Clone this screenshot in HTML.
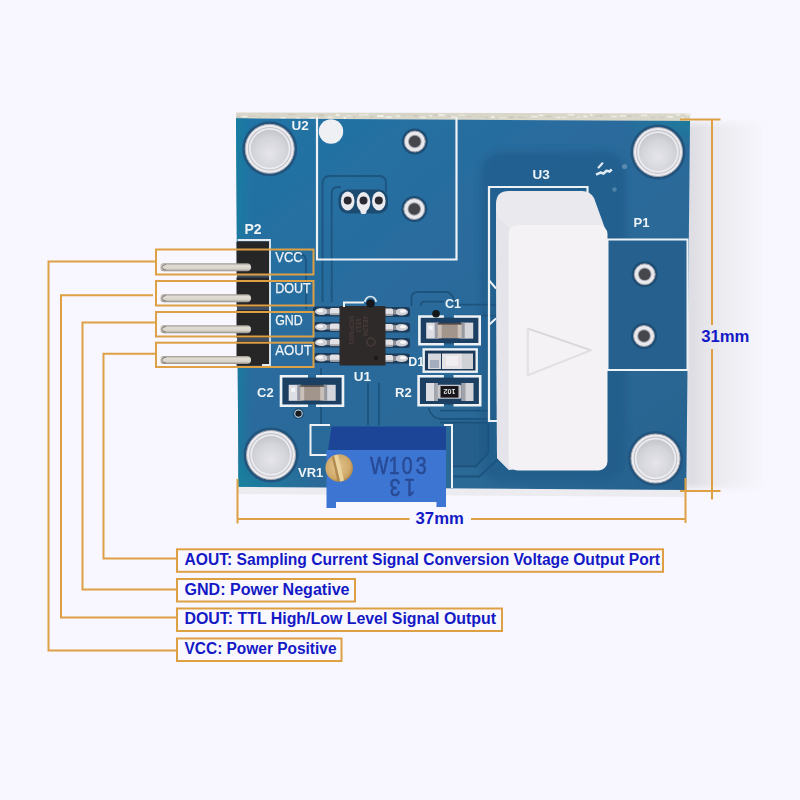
<!DOCTYPE html>
<html><head><meta charset="utf-8"><title>Current sensor module</title>
<style>
html,body{margin:0;padding:0;background:#f8f6fe;}
body{width:800px;height:800px;overflow:hidden;font-family:"Liberation Sans",sans-serif;}
svg{display:block;}
.sk{font-family:"Liberation Sans",sans-serif;font-weight:bold;fill:#eef3f6;}
.pl{font-weight:normal;stroke:#eef3f6;stroke-width:0.25px;}
.lb{font-family:"Liberation Sans",sans-serif;font-weight:bold;fill:#1419c6;}
</style></head>
<body>
<svg width="800" height="800" viewBox="0 0 800 800">
<defs>
  <linearGradient id="pcb" x1="0" y1="0" x2="1" y2="1">
    <stop offset="0" stop-color="#2074a6"/>
    <stop offset="0.35" stop-color="#296c9e"/>
    <stop offset="0.7" stop-color="#2b6896"/>
    <stop offset="1" stop-color="#27638f"/>
  </linearGradient>
  <radialGradient id="holein" cx="0.5" cy="0.62" r="0.6">
    <stop offset="0" stop-color="#e6e5ec"/>
    <stop offset="0.7" stop-color="#d4d4db"/>
    <stop offset="1" stop-color="#c6c6ce"/>
  </radialGradient>
  <linearGradient id="pin" x1="0" y1="0" x2="0" y2="1">
    <stop offset="0" stop-color="#9d998f"/>
    <stop offset="0.3" stop-color="#e2ded6"/>
    <stop offset="0.7" stop-color="#d6d2ca"/>
    <stop offset="1" stop-color="#928e86"/>
  </linearGradient>
  <linearGradient id="pinfade" x1="0" y1="0" x2="1" y2="0">
    <stop offset="0" stop-color="#272628" stop-opacity="0"/>
    <stop offset="0.45" stop-color="#e8e4dc" stop-opacity="0.3"/>
    <stop offset="1" stop-color="#272628" stop-opacity="1"/>
  </linearGradient>
  <filter id="photo" x="0" y="0" width="100%" height="100%" filterUnits="userSpaceOnUse"><feGaussianBlur stdDeviation="0.35"/></filter>
  <filter id="soft" x="-20%" y="-10%" width="140%" height="120%"><feGaussianBlur stdDeviation="3"/></filter>
  <linearGradient id="shadowR" x1="0" y1="0" x2="1" y2="0">
    <stop offset="0" stop-color="#dadae0"/>
    <stop offset="0.28" stop-color="#e6e6eb"/>
    <stop offset="0.6" stop-color="#efeff4"/>
    <stop offset="1" stop-color="#f8f6fe"/>
  </linearGradient>
  <linearGradient id="tealL" x1="0" y1="0" x2="1" y2="0">
    <stop offset="0" stop-color="#14809e" stop-opacity="0.7"/>
    <stop offset="1" stop-color="#14809e" stop-opacity="0"/>
  </linearGradient>
  <radialGradient id="tealBL" cx="0" cy="1" r="1">
    <stop offset="0" stop-color="#15869e" stop-opacity="0.75"/>
    <stop offset="1" stop-color="#15869e" stop-opacity="0"/>
  </radialGradient>
  <radialGradient id="tealTR" cx="1" cy="0" r="1">
    <stop offset="0" stop-color="#15869e" stop-opacity="0.6"/>
    <stop offset="1" stop-color="#15869e" stop-opacity="0"/>
  </radialGradient>
  <radialGradient id="brass" cx="0.45" cy="0.45" r="0.6">
    <stop offset="0" stop-color="#e2c58e"/>
    <stop offset="0.75" stop-color="#cfa868"/>
    <stop offset="1" stop-color="#a27a44"/>
  </radialGradient>
  <g id="mhole">
    <circle r="27.5" fill="#22557e"/>
    <circle r="24.5" fill="#ececf0" stroke="#a9a9b2" stroke-width="1"/>
    <circle r="21.3" fill="none" stroke="#c4c4cc" stroke-width="1.2"/>
    <circle r="19" fill="url(#holein)"/>
  </g>
  <g id="via">
    <circle r="13" fill="#1e4d74"/>
    <circle r="10.5" fill="#e9e9ed" stroke="#9a9aa4" stroke-width="1"/>
    <circle r="6.8" fill="#a3a3ab"/>
    <circle r="5.8" fill="#45464d"/>
  </g>
  <g id="sv">
    <circle r="5.5" fill="#1e4e76"/>
    <circle r="4.2" fill="#cfe0ea"/>
    <circle r="3.2" fill="#151a20"/>
  </g>
  <g id="lead">
    <rect x="-2" y="-5" width="28" height="10" rx="3" fill="#1d3a58"/>
    <ellipse cx="6.5" cy="0" rx="6.5" ry="3.6" fill="#cfd0d5"/>
    <ellipse cx="5" cy="-0.8" rx="3" ry="1.6" fill="#f6f6f8"/>
    <rect x="12" y="-2.6" width="4" height="5.2" fill="#8e8e96"/>
    <rect x="15" y="-3.6" width="10" height="7.2" rx="1.5" fill="#e2e2e6"/>
    <rect x="15" y="1.8" width="10" height="1.8" fill="#a4a4ac"/>
  </g>
  <g id="cap">
    <rect x="-23.5" y="-8" width="12.5" height="16" fill="#dedfe4"/>
    <rect x="-15" y="-8" width="4" height="16" fill="#80848e" opacity="0.75"/>
    <rect x="-21" y="-5" width="4" height="4" fill="#f6f6f8"/>
    <rect x="11" y="-8" width="12.5" height="16" fill="#d5d6dc"/>
    <rect x="11" y="-8" width="4" height="16" fill="#80848e" opacity="0.75"/>
    <rect x="-12" y="-7.6" width="24" height="15.2" rx="1" fill="#a2958c"/>
    <rect x="-12" y="-7.6" width="4" height="15.2" fill="#c9c0ba"/>
    <rect x="8" y="-7.6" width="4" height="15.2" fill="#c9c0ba"/>
    <rect x="-12" y="-7.6" width="24" height="1.6" fill="#4e4744"/>
  </g>
</defs>

<!-- background -->
<rect x="0" y="0" width="800" height="800" fill="#f8f6fe"/>
<g filter="url(#photo)">
<!-- board side / shadow -->
<rect x="685" y="123" width="80" height="365" fill="url(#shadowR)" filter="url(#soft)"/>
<polygon points="238,486 687,489 687,497 238,494" fill="#ebebf0"/>
<!-- beige top edge -->
<polygon points="236,112.5 690,113.5 690,121.5 236,119" fill="#d9d7ca"/>
<g opacity="0.85"><rect x="237.0" y="115.7" width="3.2" height="2.1" fill="#c9c6b8"/><rect x="242.3" y="115.9" width="4.9" height="1.3" fill="#f6f5f1"/><rect x="248.6" y="115.4" width="7.0" height="1.6" fill="#d2cfc2"/><rect x="258.3" y="116.0" width="2.8" height="1.5" fill="#d2cfc2"/><rect x="261.6" y="114.1" width="5.9" height="1.1" fill="#d2cfc2"/><rect x="270.7" y="114.6" width="6.1" height="1.9" fill="#d2cfc2"/><rect x="280.4" y="117.2" width="5.6" height="1.9" fill="#f6f5f1"/><rect x="288.5" y="114.0" width="6.8" height="1.1" fill="#c9c6b8"/><rect x="296.3" y="117.4" width="3.1" height="1.9" fill="#f6f5f1"/><rect x="302.9" y="116.8" width="4.1" height="1.4" fill="#d2cfc2"/><rect x="309.5" y="117.1" width="4.9" height="2.0" fill="#f1f0ea"/><rect x="318.4" y="114.2" width="5.4" height="2.2" fill="#c9c6b8"/><rect x="327.4" y="116.4" width="4.8" height="1.8" fill="#ece9df"/><rect x="336.2" y="114.0" width="3.3" height="2.0" fill="#f6f5f1"/><rect x="343.5" y="116.7" width="2.4" height="2.1" fill="#f6f5f1"/><rect x="346.6" y="115.2" width="4.1" height="1.1" fill="#f1f0ea"/><rect x="353.3" y="116.4" width="2.2" height="1.7" fill="#c9c6b8"/><rect x="359.3" y="114.4" width="3.4" height="1.4" fill="#f1f0ea"/><rect x="363.5" y="113.6" width="5.0" height="2.2" fill="#ece9df"/><rect x="370.0" y="116.3" width="3.3" height="1.4" fill="#c9c6b8"/><rect x="377.1" y="115.0" width="6.5" height="2.0" fill="#f6f5f1"/><rect x="385.5" y="116.2" width="6.3" height="1.7" fill="#f1f0ea"/><rect x="395.6" y="115.2" width="4.5" height="2.1" fill="#ece9df"/><rect x="402.2" y="114.7" width="3.3" height="1.0" fill="#c9c6b8"/><rect x="407.4" y="113.6" width="4.9" height="1.7" fill="#d2cfc2"/><rect x="413.3" y="114.8" width="5.2" height="1.8" fill="#c9c6b8"/><rect x="420.2" y="116.5" width="5.5" height="1.7" fill="#f1f0ea"/><rect x="429.6" y="115.0" width="2.1" height="1.4" fill="#f6f5f1"/><rect x="434.3" y="114.2" width="2.9" height="2.0" fill="#c9c6b8"/><rect x="438.6" y="113.9" width="5.9" height="2.2" fill="#f1f0ea"/><rect x="447.4" y="115.5" width="2.7" height="1.3" fill="#c9c6b8"/><rect x="451.2" y="116.3" width="4.2" height="1.7" fill="#f1f0ea"/><rect x="459.2" y="114.4" width="5.4" height="1.1" fill="#ece9df"/><rect x="467.7" y="115.8" width="3.1" height="1.3" fill="#c9c6b8"/><rect x="471.7" y="114.3" width="4.6" height="1.2" fill="#d2cfc2"/><rect x="477.8" y="116.1" width="6.0" height="1.4" fill="#d2cfc2"/><rect x="484.8" y="116.7" width="3.5" height="1.6" fill="#c9c6b8"/><rect x="491.0" y="115.8" width="3.5" height="2.1" fill="#f1f0ea"/><rect x="495.5" y="117.3" width="2.0" height="2.2" fill="#d2cfc2"/><rect x="499.5" y="117.2" width="6.8" height="1.0" fill="#ece9df"/><rect x="508.4" y="116.5" width="5.8" height="1.7" fill="#c9c6b8"/><rect x="517.8" y="116.9" width="6.3" height="1.1" fill="#c9c6b8"/><rect x="525.4" y="116.7" width="2.2" height="2.1" fill="#d2cfc2"/><rect x="531.3" y="115.8" width="6.5" height="1.6" fill="#f1f0ea"/><rect x="538.7" y="114.5" width="4.5" height="1.6" fill="#f1f0ea"/><rect x="545.1" y="115.9" width="6.7" height="1.2" fill="#c9c6b8"/><rect x="555.7" y="116.7" width="4.7" height="1.4" fill="#f1f0ea"/><rect x="561.6" y="116.8" width="4.7" height="1.3" fill="#ece9df"/><rect x="567.8" y="114.0" width="6.4" height="1.6" fill="#f1f0ea"/><rect x="576.7" y="116.5" width="4.0" height="1.3" fill="#ece9df"/><rect x="583.1" y="115.4" width="4.1" height="2.0" fill="#f1f0ea"/><rect x="590.4" y="113.7" width="2.2" height="2.2" fill="#f6f5f1"/><rect x="596.1" y="115.5" width="2.4" height="1.2" fill="#c9c6b8"/><rect x="599.3" y="115.1" width="3.9" height="1.4" fill="#c9c6b8"/><rect x="604.4" y="114.0" width="3.6" height="1.0" fill="#d2cfc2"/><rect x="611.1" y="115.8" width="6.0" height="1.4" fill="#f1f0ea"/><rect x="619.7" y="115.0" width="5.9" height="1.7" fill="#f1f0ea"/><rect x="627.6" y="115.5" width="3.9" height="1.5" fill="#c9c6b8"/><rect x="634.4" y="114.5" width="4.3" height="1.3" fill="#d2cfc2"/><rect x="641.2" y="114.4" width="6.0" height="2.1" fill="#ece9df"/><rect x="651.0" y="117.1" width="3.9" height="1.1" fill="#c9c6b8"/><rect x="657.8" y="116.4" width="6.7" height="2.0" fill="#d2cfc2"/><rect x="667.3" y="115.8" width="5.7" height="2.0" fill="#f1f0ea"/><rect x="676.0" y="114.4" width="4.4" height="1.1" fill="#f6f5f1"/><rect x="681.2" y="117.0" width="2.5" height="2.0" fill="#ece9df"/><rect x="685.4" y="113.6" width="6.3" height="1.8" fill="#f1f0ea"/></g>
<!-- PCB -->
<polygon points="236,118.3 690,121 686.3,490 238.5,486.8" fill="url(#pcb)"/>
<polygon points="236,118.3 250,118.5 252,487 238.5,486.8" fill="url(#tealL)"/>
<polygon points="237.5,450 317,450 317,487.3 238.5,486.8" fill="url(#tealBL)"/>
<polygon points="620,120.5 690,121 689.7,150 620,150" fill="url(#tealTR)"/>

<!-- traces (subtle edges) -->
<path d="M452,423 H488.4 V452.9 L476,466.4 H452 Z" fill="#245c88" opacity="0.8"/>
<g fill="none" stroke="#1b4c74" stroke-width="1.8" opacity="0.75">
  <path d="M386,192 V183 Q386,176 379,176 H330 Q322.5,176 322.5,184 V302"/>
  <path d="M341,187 H338 Q331.7,187 331.7,194 V302"/>
  <path d="M293,254 H299 Q306,254 306,261 V309"/>
  <path d="M411.5,306 V298 Q411.5,292 418,292 H446 Q450,292 453,297 L456,304.7 H496"/>
  <path d="M421,306 V305 Q421,301.7 425,301.7 H444"/>
  <path d="M456,315.7 H496"/>
  <path d="M321,368 V425 M368,383 V425 M379,383 V425"/>
  <path d="M428.5,408 Q432,419 441,419 H489"/>
  <path d="M440,410.7 H488 M440,422.5 H488"/>
  <path d="M488.4,423 V452.9 L476,466.4 H452"/>
  <path d="M498.5,423 V458.5 L479.4,476.5 H452"/>
</g>

<!-- darker region around U3 -->
<rect x="480" y="151" width="146" height="330" rx="22" fill="#1c5583" opacity="0.45" filter="url(#soft)"/>

<!-- P1 copper area -->
<rect x="608" y="240" width="79" height="129.5" fill="#27618e"/>

<!-- U2 silkscreen -->
<polyline points="317,117 317,259.5 456.5,259.5 456.5,117" fill="none" stroke="#eef2f5" stroke-width="2.2"/>
<circle cx="331" cy="131.5" r="12.2" fill="#eef0f3"/>
<text class="sk" x="291.5" y="130" font-size="13.5">U2</text>
<use href="#via" x="414.8" y="141.5"/>
<use href="#via" x="414.3" y="209"/>
<!-- 3 pads -->
<g>
  <rect x="338.5" y="189.5" width="49.5" height="24" rx="9" fill="#1f4c72"/>
  <ellipse cx="347.7" cy="201" rx="6.8" ry="9.5" fill="#ebebef"/>
  <rect x="360.5" y="206" width="6" height="8" rx="2" fill="#ebebef"/>
  <ellipse cx="363.5" cy="202" rx="6.8" ry="10" fill="#ebebef"/>
  <ellipse cx="378.8" cy="201" rx="6.8" ry="9.5" fill="#ebebef"/>
  <circle cx="347.7" cy="200.5" r="4" fill="#2a2b30"/>
  <circle cx="363.5" cy="200.5" r="4" fill="#2a2b30"/>
  <circle cx="378.8" cy="200.5" r="4" fill="#2a2b30"/>
</g>

<!-- mounting holes -->
<use href="#mhole" x="269.7" y="148.8"/>
<use href="#mhole" x="658" y="152"/>
<use href="#mhole" x="271" y="455"/>
<use href="#mhole" x="655.5" y="458.5"/>

<!-- U3 silkscreen + label -->
<polyline points="497,421 489,421 489,187 587.5,187 587.5,200" fill="none" stroke="#eef2f5" stroke-width="2.2"/>
<text class="sk" x="532.5" y="178.5" font-size="13.5">U3</text>
<path d="M488.5,279.7 L496,288.5 M488.5,325.2 L496,318.5" stroke="#eef2f5" stroke-width="2" fill="none"/>
<!-- P1 silkscreen -->
<rect x="607.5" y="239.5" width="80" height="130.5" fill="none" stroke="#eef2f5" stroke-width="2"/>
<text class="sk" x="633.5" y="227" font-size="13">P1</text>
<use href="#via" x="644.7" y="274.3"/>
<use href="#via" x="644" y="336"/>
<!-- small silkscreen marks near U3 -->
<path d="M598.6,167.4 L602.4,163.3" stroke="#e2ebf1" stroke-width="2.2" stroke-linecap="round" fill="none"/>
<path d="M596,174.6 L600.5,172.6 L603.5,173.6 L606.5,170.8 L609.5,171.6 L611.8,169.6" stroke="#e2ebf1" stroke-width="2.6" stroke-linejoin="round" fill="none"/>
<circle cx="624.5" cy="166.5" r="2.6" fill="#7ea3c0" opacity="0.6"/>
<circle cx="614.5" cy="189.5" r="2.2" fill="#7ea3c0" opacity="0.5"/>

<!-- U3 current transformer block -->
<path d="M496,204 Q496,191 509,191 L582,191 Q590,191 594,198 L607,234 L607,460 L509,470 L497,458 Z" fill="#eaeaee"/>
<path d="M496,215 L509,228 L509,470 L497,458 Z" fill="#e4e4ea"/>
<rect x="508.5" y="225" width="99" height="245.5" rx="9" fill="#f4f2f4"/>
<polygon points="527.8,328.5 527.8,375.3 591,350.3" fill="none" stroke="#e2e0e4" stroke-width="2.2" stroke-linejoin="round"/>
<path d="M528.5,328.8 L590,350" stroke="#d6d4d9" stroke-width="1.2" fill="none"/>

<!-- header P2 -->
<rect x="237" y="241" width="32" height="125" fill="#3c4e63"/>
<g fill="#272628">
  <rect x="236.5" y="242" width="32.5" height="32.5"/>
  <rect x="236.5" y="277.5" width="32.5" height="29.5"/>
  <rect x="236.5" y="310" width="32.5" height="28"/>
  <rect x="236.5" y="341" width="32.5" height="24.5"/>
</g>
<path d="M238.5,241 V240 H270 V365 H262" fill="none" stroke="#e4ecf1" stroke-width="1.8"/>
<text class="sk" x="244.5" y="234" font-size="14">P2</text>
<!-- pins -->
<g>
  <rect x="160" y="263.3" width="91" height="8" rx="4" fill="url(#pin)"/>
  <rect x="160" y="294.2" width="91" height="8" rx="4" fill="url(#pin)"/>
  <rect x="160" y="325.2" width="91" height="8" rx="4" fill="url(#pin)"/>
  <rect x="160" y="356" width="91" height="8" rx="4" fill="url(#pin)"/>
  <g fill="none" stroke="#8a867e" stroke-width="1.2">
    <path d="M166,264.5 Q161,265.5 162,268 Q163,270 166,270"/>
    <path d="M166,295.4 Q161,296.4 162,299 Q163,301 166,301"/>
    <path d="M166,326.4 Q161,327.4 162,330 Q163,332 166,332"/>
    <path d="M166,357.2 Q161,358.2 162,361 Q163,363 166,363"/>
  </g>
</g>

<!-- P2 labels -->
<text class="sk pl" x="275.2" y="262" font-size="14.2" textLength="27.6" lengthAdjust="spacingAndGlyphs">VCC</text>
<text class="sk pl" x="275.2" y="293.3" font-size="14" textLength="35.6" lengthAdjust="spacingAndGlyphs">DOUT</text>
<text class="sk pl" x="275.2" y="324.8" font-size="14.2" textLength="27.6" lengthAdjust="spacingAndGlyphs">GND</text>
<text class="sk pl" x="275.2" y="355.2" font-size="14.2" textLength="36.6" lengthAdjust="spacingAndGlyphs">AOUT</text>

<!-- U1 chip -->
<use href="#lead" x="315" y="311.5"/>
<use href="#lead" x="315" y="327"/>
<use href="#lead" x="315" y="342.5"/>
<use href="#lead" x="315" y="358"/>
<use href="#lead" x="-408" y="312" transform="scale(-1,1)"/>
<use href="#lead" x="-408" y="327.5" transform="scale(-1,1)"/>
<use href="#lead" x="-408" y="343" transform="scale(-1,1)"/>
<use href="#lead" x="-408" y="358.5" transform="scale(-1,1)"/>
<rect x="339.5" y="306" width="46" height="59.5" fill="#2f2b2c"/>
<g fill="#5a4640" opacity="0.55" font-family="Liberation Sans, sans-serif" font-size="6.5" font-weight="bold">
  <text transform="translate(349,316) rotate(90)">MCP6001</text>
  <text transform="translate(356,318) rotate(90)">1513</text>
  <text transform="translate(363,316) rotate(90)">4E1JH</text>
  <circle cx="371" cy="342" r="4" fill="none" stroke="#5a4640" stroke-width="1.5"/>
</g>
<circle cx="376" cy="358" r="2.2" fill="#1d1b1c"/>
<path d="M344,307 V302.5 H364" fill="none" stroke="#eef2f5" stroke-width="2"/>
<path d="M365,302 A5.5,5.5 0 0 1 376,302" fill="none" stroke="#dfe8ee" stroke-width="1.6"/>
<circle cx="370.5" cy="303.5" r="4.3" fill="#15191f"/>
<text class="sk" x="353.8" y="380.7" font-size="13.5">U1</text>

<!-- C1 -->
<rect x="420" y="317.5" width="59" height="26" fill="#1f4164"/>
<g fill="none" stroke="#eef2f5" stroke-width="2.6">
  <polyline points="443.9,316.5 419.4,316.5 419.4,344.3 443.9,344.3"/>
  <polyline points="453.9,316.5 479.7,316.5 479.7,344.3 453.9,344.3"/>
</g>
<use href="#cap" x="449.7" y="330.6"/>
<circle cx="436" cy="313.8" r="3.8" fill="#121418"/>
<text class="sk" x="445" y="308" font-size="12.5">C1</text>

<!-- D1 -->
<rect x="423.7" y="349.4" width="53" height="22.3" fill="#1c3858" stroke="#eef2f5" stroke-width="2.4"/>
<rect x="428" y="353.5" width="13" height="15.5" fill="#d6d8de"/>
<rect x="430" y="360" width="9" height="8" fill="#7b8aa3" opacity="0.55"/>
<rect x="462" y="353.5" width="11" height="15.5" fill="#cfd1d7"/>
<rect x="442" y="353.5" width="20" height="15.5" fill="#e6e2e6"/>
<rect x="446" y="356" width="12" height="10" fill="#f1eef1"/>
<text class="sk" x="408.3" y="366" font-size="12.5">D1</text>

<!-- R2 -->
<rect x="420" y="377.5" width="59" height="27" fill="#1f4164"/>
<g fill="none" stroke="#eef2f5" stroke-width="2.6">
  <polyline points="443.9,376.3 418.6,376.3 418.6,405.3 443.9,405.3"/>
  <polyline points="453.5,376.3 480.2,376.3 480.2,405.3 453.5,405.3"/>
</g>
<rect x="426" y="383" width="12" height="18" fill="#dcdde2"/>
<rect x="434" y="383" width="4" height="18" fill="#8a8d96" opacity="0.7"/>
<rect x="461.5" y="383" width="12" height="18" fill="#d2d3d9"/>
<rect x="461.5" y="383" width="4" height="18" fill="#8a8d96" opacity="0.7"/>
<rect x="437.7" y="384.8" width="23.5" height="14" rx="1.5" fill="#c8c8cc"/>
<rect x="440.5" y="386" width="18" height="11.6" fill="#18181b"/>
<text transform="translate(449.5,391.8) rotate(180)" x="0" y="2.6" text-anchor="middle" font-size="7.2" fill="#e8e8e8" font-family="Liberation Sans, sans-serif" font-weight="bold">102</text>
<text class="sk" x="395" y="396.5" font-size="13">R2</text>

<!-- C2 -->
<rect x="282.5" y="377.5" width="59" height="27" fill="#1f4164"/>
<g fill="none" stroke="#eef2f5" stroke-width="2.6">
  <polyline points="308,376.3 281,376.3 281,405.8 308,405.8"/>
  <polyline points="316,376.3 343,376.3 343,405.8 316,405.8"/>
</g>
<use href="#cap" x="312.2" y="392.8"/>
<text class="sk" x="257" y="396.5" font-size="13">C2</text>
<use href="#sv" x="298.5" y="413.6"/>

<!-- VR1 -->
<polyline points="330,425 310.5,425 310.5,455 328,455" fill="none" stroke="#eef2f5" stroke-width="2"/>
<polyline points="444,425 452,425 452,488" fill="none" stroke="#eef2f5" stroke-width="2"/>
<polygon points="331.5,426.5 446,426.5 446,450.5 328,450.5" fill="#1f4598"/>
<path d="M326.5,450 H446 V507 H436.5 V502 H336 V508 H326.5 Z" fill="#3e75d3"/>
<circle cx="339.2" cy="468" r="13.8" fill="url(#brass)"/>
<path d="M334,455.5 L338,455 L344,480.5 L340,481.5 Z" fill="#ecd49e"/>
<path d="M332,457 L334,456 L340,481 L337.5,481.5 Z" fill="#b18a50"/>
<text transform="translate(370,474.2) scale(0.8,1)" x="0 23.5 39.6 57.1" y="0" font-size="24.5" fill="#294b95" stroke="#294b95" stroke-width="0.6" font-family="Liberation Sans, sans-serif">W103</text>
<text transform="translate(404,487.5) rotate(180) scale(0.8,1)" x="-14 4.5" y="8.9" font-size="24.5" fill="#294b95" stroke="#294b95" stroke-width="0.6" font-family="Liberation Sans, sans-serif">13</text>
<text class="sk" x="298" y="476.5" font-size="13">VR1</text>

</g>

<!-- ============== annotations ============== -->
<g fill="none" stroke="#dea044" stroke-width="2">
  <!-- P2 label boxes -->
  <rect x="156" y="249.5" width="157.5" height="25"/>
  <rect x="156" y="281" width="157.5" height="24.5"/>
  <rect x="156" y="312" width="157.5" height="24.5"/>
  <rect x="156" y="342.7" width="157.5" height="24.3"/>
  <!-- leader lines -->
  <polyline points="156,261.5 48.5,261.5 48.5,650.5 177,650.5"/>
  <polyline points="153,295.2 61,295.2 61,617.5 177,617.5"/>
  <polyline points="156,322.5 82.5,322.5 82.5,589.5 177,589.5"/>
  <polyline points="156,353.7 103.5,353.7 103.5,558.5 177,558.5"/>
  <!-- bottom label boxes -->
  <rect x="177" y="549.3" width="486" height="22.5" fill="#faf8ff"/>
  <rect x="177" y="579" width="178" height="22.5" fill="#faf8ff"/>
  <rect x="177" y="608.5" width="325" height="22.5" fill="#faf8ff"/>
  <rect x="177" y="638.5" width="164.5" height="22.5" fill="#faf8ff"/>
  <!-- dimension 31mm -->
  <line x1="680" y1="119.5" x2="720.5" y2="119.5"/>
  <line x1="680" y1="491" x2="720.5" y2="491"/>
  <line x1="712" y1="119.5" x2="712" y2="325"/>
  <line x1="712" y1="349" x2="712" y2="499.5"/>
  <!-- dimension 37mm -->
  <line x1="237.5" y1="479" x2="237.5" y2="523.5"/>
  <line x1="685.5" y1="478" x2="685.5" y2="523"/>
  <line x1="237.5" y1="519" x2="409.5" y2="519"/>
  <line x1="471" y1="519" x2="685.5" y2="519"/>
</g>
<text class="lb" x="701.2" y="341.5" font-size="16" textLength="48.2" lengthAdjust="spacingAndGlyphs">31mm</text>
<text class="lb" x="415.6" y="524.4" font-size="16" textLength="48.2" lengthAdjust="spacingAndGlyphs">37mm</text>

<text class="lb" x="184.5" y="565.2" font-size="16" textLength="475.5" lengthAdjust="spacingAndGlyphs">AOUT: Sampling Current Signal Conversion Voltage Output Port</text>
<text class="lb" x="184.5" y="594.8" font-size="16" textLength="165" lengthAdjust="spacingAndGlyphs">GND: Power Negative</text>
<text class="lb" x="184.5" y="624.4" font-size="16" textLength="311.5" lengthAdjust="spacingAndGlyphs">DOUT: TTL High/Low Level Signal Output</text>
<text class="lb" x="184.5" y="654.3" font-size="16" textLength="152" lengthAdjust="spacingAndGlyphs">VCC: Power Positive</text>
</svg>
</body></html>
